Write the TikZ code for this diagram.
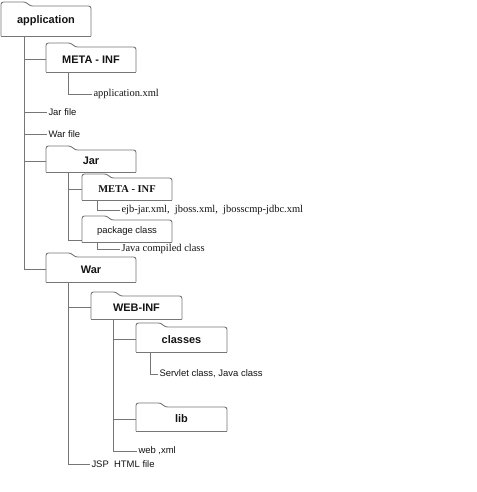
\documentclass[tikz,border=0pt]{standalone}
\usepackage{fontspec}
\setmainfont{Liberation Sans}
\newfontfamily\serifrm{Liberation Serif}
\usetikzlibrary{calc}
\definecolor{lg}{RGB}{118,118,118}
\definecolor{tx}{RGB}{20,20,20}
\tikzset{
  folder/.style={rectangle, inner sep=0pt, outer sep=0pt, text=tx,
    font=\fontsize{11}{13}\selectfont\bfseries},
  fline/.style={draw=lg, line width=0.9bp},
  conn/.style={draw=lg, line width=0.9bp},
  leaf/.style={anchor=west, inner xsep=1.5bp, inner ysep=1bp, outer sep=0pt, text=tx,
    font=\fontsize{9.5}{11}\selectfont},
  sleaf/.style={leaf, font=\serifrm\fontsize{10.5}{12}\selectfont},
}
\newcommand\folderoutline[1]{%
  \draw[fline, line join=round, rounded corners=2.5bp]
    (#1.south west) -- ($(#1.north west)+(0,-4)$) -- ($(#1.north west)+(25,-4)$)
    -- ($(#1.north west)+(29,0)$) -- (#1.north east) -- (#1.south east);
  \draw[fline, line cap=rect] (#1.south west) -- (#1.south east);
}
\begin{document}
\begin{tikzpicture}[x=1bp,y=-1bp]
\useasboundingbox[fill=white] (0,0) rectangle (477,492);

% folders
\node[folder, minimum width=90bp, minimum height=30bp] (app) at (46,21) {application};
\node[folder, minimum width=90bp, minimum height=25bp] (meta1) at (91,59.5) {META - INF};
\node[folder, minimum width=90bp, minimum height=22bp] (jar) at (91,161) {Jar};
\node[folder, minimum width=90bp, minimum height=22bp, font=\serifrm\fontsize{10.5}{12}\selectfont\bfseries] (meta2) at (127,189) {\raisebox{-3bp}{META - INF}};
\node[folder, minimum width=90bp, minimum height=22bp, font=\fontsize{9.5}{11}\selectfont] (pkg) at (127,231) {package class};
\node[folder, minimum width=90bp, minimum height=25bp] (war) at (91,269.5) {War};
\node[folder, minimum width=91bp, minimum height=23bp] (webinf) at (136.5,307.5) {WEB-INF};
\node[folder, minimum width=91bp, minimum height=25bp] (classes) at (181.5,339.5) {classes};
\node[folder, minimum width=91bp, minimum height=24bp] (lib) at (181.5,419) {lib};

\foreach \f in {app,meta1,jar,meta2,pkg,war,webinf,classes,lib}{\folderoutline{\f}}

% leaves
\node[sleaf] (appxml) at (92,94) {application.xml};
\node[leaf] (jarfile) at (47,112) {Jar file};
\node[leaf] (warfile) at (47,134) {War file};
\node[sleaf] (ejb) at (120,210) {ejb-jar.xml,\ \ jboss.xml,\ \ jbosscmp-jdbc.xml};
\node[sleaf] (jcc) at (120,249) {Java compiled class};
\node[leaf] (servlet) at (158,374) {Servlet class, Java class};
\node[leaf] (webxml) at (137,451) {web ,xml};
\node[leaf] (jsp) at (90,464) {JSP\ \ HTML file};

% connectors: application
\draw[conn] ($(app.south west)+(23,0)$) coordinate (tr) -- (tr |- war.west) -- (war.west);
\draw[conn] (tr |- meta1.west) -- (meta1.west);
\draw[conn] (tr |- jarfile.west) -- (jarfile.west);
\draw[conn] (tr |- warfile.west) -- (warfile.west);
\draw[conn] (tr |- jar.west) -- (jar.west);
% META-INF
\draw[conn] ($(meta1.south west)+(22,0)$) |- (appxml.west);
% Jar
\draw[conn] ($(jar.south west)+(22,0)$) coordinate (j1) |- ($(pkg.south west)+(0,-1.5)$);
\draw[conn] (j1 |- meta2.west) -- (meta2.west);
\draw[conn] ($(meta2.south west)+(15,0)$) |- (ejb.west);
\draw[conn] ($(pkg.south west)+(15,0)$) |- (jcc.west);
% War
\draw[conn] ($(war.south west)+(22,0)$) coordinate (w1) |- (jsp.west);
\draw[conn] (w1 |- webinf.west) -- (webinf.west);
% WEB-INF
\draw[conn] ($(webinf.south west)+(22,0)$) coordinate (wi) |- (webxml.west);
\draw[conn] (wi |- classes.west) -- (classes.west);
\draw[conn] (wi |- lib.west) -- (lib.west);
\draw[conn] ($(classes.south west)+(14,0)$) |- (servlet.west);
\end{tikzpicture}
\end{document}
